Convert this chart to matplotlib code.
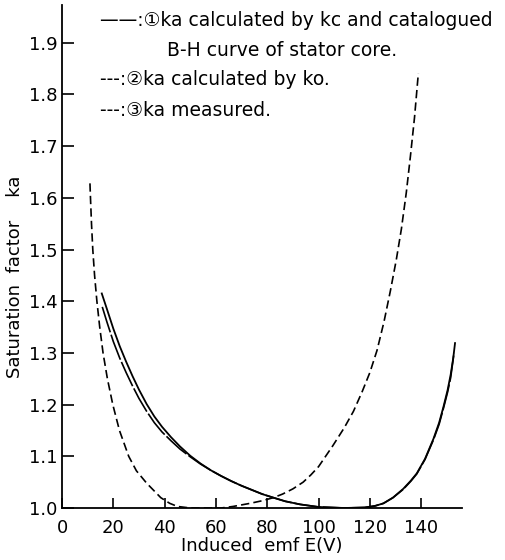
import matplotlib
matplotlib.use("Agg")
import matplotlib.pyplot as plt

plt.rcParams['font.family'] = ['DejaVu Sans', 'Noto Sans CJK JP']

# ① ka calculated by kc and catalogued B-H curve
e_kc = [15.5, 17.5, 20, 22.5, 25, 27.5, 30, 33, 36, 39, 42.5, 46, 50, 54, 58, 62, 66, 70, 74, 78, 82.4, 87, 92.8, 100, 110,
        118, 122, 125.3, 129, 133, 136, 138.3, 141.5, 144.8, 147, 148.7, 150.3, 151.5, 152.5, 153.2]
k_kc = [1.415, 1.385, 1.347, 1.313, 1.283, 1.255, 1.229, 1.201, 1.177, 1.157, 1.137, 1.119, 1.101, 1.086, 1.073, 1.062, 1.052, 1.043, 1.035, 1.027, 1.02, 1.013, 1.007, 1.002, 1.0,
        1.001, 1.004, 1.009, 1.02, 1.037, 1.053, 1.067, 1.095, 1.134, 1.165, 1.196, 1.228, 1.258, 1.29, 1.319]

# ② ka calculated by ko
e_ko = [10.9, 11.1, 11.5, 12, 12.7, 13.6, 14.7, 16, 17.7, 19.8, 22.4, 26, 29, 33, 38.5, 42, 45, 50, 56, 62,
        66.7, 73.3, 78, 82.4, 86, 90, 94, 97, 100, 105.5, 110, 113.6, 117, 120, 122.8, 125.5, 128, 130.3, 132.3, 134.2, 135.8, 137.4, 138.9]
k_ko = [1.628, 1.6, 1.55, 1.5, 1.45, 1.4, 1.35, 1.3, 1.25, 1.2, 1.15, 1.1, 1.072, 1.048, 1.02, 1.009, 1.003, 1.0, 1.0, 1.0,
        1.003, 1.009, 1.014, 1.02, 1.027, 1.037, 1.05, 1.064, 1.08, 1.12, 1.155, 1.187, 1.225, 1.262, 1.305, 1.36, 1.42, 1.48, 1.54, 1.61, 1.68, 1.755, 1.841]

# ③ ka measured
e_ms = [15.7, 17.5, 20, 22.5, 25, 27.5, 30, 33, 36, 39, 42.5, 46, 50, 54, 58, 62, 66, 70, 74, 78, 82.4, 87, 92.8, 100, 110,
        118, 122, 125.3, 129, 133, 136, 138.3, 141.5, 144.8, 147, 148.7, 150.3, 151.5, 152.8]
k_ms = [1.389, 1.36, 1.322, 1.29, 1.262, 1.236, 1.212, 1.187, 1.165, 1.147, 1.13, 1.114, 1.099, 1.085, 1.073, 1.062, 1.052, 1.043, 1.035, 1.027, 1.02, 1.013, 1.007, 1.002, 1.0,
        1.001, 1.004, 1.009, 1.02, 1.036, 1.052, 1.066, 1.094, 1.132, 1.162, 1.193, 1.224, 1.252, 1.30]

xticks = [0, 20, 40, 60, 80, 100, 120, 140]
yticks = [1.0, 1.1, 1.2, 1.3, 1.4, 1.5, 1.6, 1.7, 1.8, 1.9]

fig = plt.figure(figsize=(5.05, 5.6), dpi=100)
ax = fig.add_axes([62/505, 1-508/560, (461.7-62)/505, (508-5)/560])

ax.plot(e_kc, k_kc, color='black', lw=1.3)
ax.plot(e_ko, k_ko, color='black', lw=1.2, dashes=(5, 2.5))
ax.plot(e_ms, k_ms, color='black', lw=1.2, dashes=(16, 1.5))

ax.set_xlim(0, 155.8)
ax.set_ylim(1.0, 1.973)
ax.set_xticks(xticks)
ax.set_xticklabels([str(v) for v in xticks])
ax.set_yticks(yticks)
ax.set_yticklabels(['%.1f' % v for v in yticks])
ax.spines['top'].set_visible(False)
ax.spines['right'].set_visible(False)
ax.spines['left'].set_linewidth(1.3)
ax.spines['bottom'].set_linewidth(1.3)
ax.tick_params(axis='x', direction='in', length=7, width=1.2, labelsize=13, pad=8)
ax.tick_params(axis='y', direction='in', length=8.5, width=1.2, labelsize=13, pad=3)

ax.set_xlabel('Induced  emf E(V)', fontsize=13, labelpad=0)
ax.set_ylabel('Saturation  factor    ka', fontsize=13, labelpad=4)
ax.yaxis.set_label_coords(-0.095, 0.46)

# legend written as text, like the original
fs = 13.5
fig.text(100/505, 1-20/560, '——:①ka calculated by kc and catalogued', fontsize=fs, va='center')
fig.text(167/505, 1-50/560, 'B-H curve of stator core.', fontsize=fs, va='center')
fig.text(100/505, 1-80/560, '---:②ka calculated by ko.', fontsize=fs, va='center')
fig.text(100/505, 1-110/560, '---:③ka measured.', fontsize=fs, va='center')

fig.savefig('out.png', dpi=100)
